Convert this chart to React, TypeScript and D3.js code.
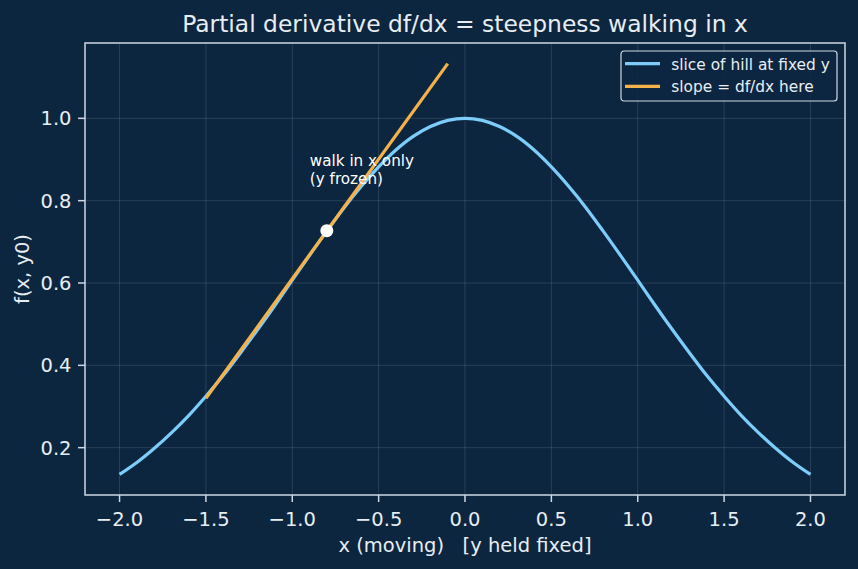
import React, { useEffect, useRef } from 'react';
import * as d3 from 'd3';

// slice of the hill f(x, y0), sampled every 0.1 in x
const sliceX = [
  -2.0, -1.9, -1.8, -1.7, -1.6, -1.5, -1.4, -1.3, -1.2, -1.1, -1.0,
  -0.9, -0.8, -0.7, -0.6, -0.5, -0.4, -0.3, -0.2, -0.1, 0.0,
  0.1, 0.2, 0.3, 0.4, 0.5, 0.6, 0.7, 0.8, 0.9, 1.0,
  1.1, 1.2, 1.3, 1.4, 1.5, 1.6, 1.7, 1.8, 1.9, 2.0
];
const sliceY = [
  0.135, 0.164, 0.198, 0.236, 0.278, 0.325, 0.375, 0.430, 0.487, 0.546, 0.607,
  0.667, 0.726, 0.783, 0.835, 0.882, 0.923, 0.956, 0.980, 0.995, 1.000,
  0.995, 0.980, 0.956, 0.923, 0.882, 0.835, 0.783, 0.726, 0.667, 0.607,
  0.546, 0.487, 0.430, 0.375, 0.325, 0.278, 0.236, 0.198, 0.164, 0.135
];

// tangent segment through the marked point
const slopeX = [-1.5, -0.1];
const slopeY = [0.320, 1.133];
const pointX = -0.8;
const pointY = 0.727;

const xTicks = [-2.0, -1.5, -1.0, -0.5, 0.0, 0.5, 1.0, 1.5, 2.0];
const yTicks = [0.2, 0.4, 0.6, 0.8, 1.0];

const legendLabels = ['slice of hill at fixed y', 'slope = df/dx here'];

const BG = '#0c2640';
const BLUE = '#7dcdfb';
const ORANGE = '#f5b24a';
const FG = '#e8edf2';
const SPINE = '#cfd8e2';

function App() {
  const ref = useRef<SVGSVGElement | null>(null);

  useEffect(() => {
    const svg = d3.select(ref.current);
    svg.selectAll('*').remove();

    const W = 858, H = 569;
    const margin = { top: 43, right: 13, bottom: 74, left: 85 };
    const width = W - margin.left - margin.right;
    const height = H - margin.top - margin.bottom;
    const font = 'DejaVu Sans, sans-serif';
    const tickSize = '19.5px';

    const x = d3.scaleLinear().domain([-2.2, 2.2]).range([0, width]);
    const y = d3.scaleLinear().domain([0.085, 1.183]).range([height, 0]);

    svg.append('rect').attr('width', W).attr('height', H).attr('fill', BG);

    const g = svg.append('g').attr('transform', `translate(${margin.left},${margin.top})`);

    // grid
    g.append('g').selectAll('line').data(xTicks).join('line')
      .attr('x1', d => x(d)).attr('x2', d => x(d))
      .attr('y1', 0).attr('y2', height)
      .attr('stroke', '#ffffff').attr('stroke-opacity', 0.15).attr('stroke-width', 0.8);
    g.append('g').selectAll('line').data(yTicks).join('line')
      .attr('y1', d => y(d)).attr('y2', d => y(d))
      .attr('x1', 0).attr('x2', width)
      .attr('stroke', '#ffffff').attr('stroke-opacity', 0.15).attr('stroke-width', 0.8);

    const fmt = (d: number) => d.toFixed(1).replace('-', '\u2212');

    // x axis
    const xa = g.append('g').attr('transform', `translate(0,${height})`);
    xa.selectAll('line').data(xTicks).join('line')
      .attr('x1', d => x(d)).attr('x2', d => x(d))
      .attr('y1', 0).attr('y2', 7)
      .attr('stroke', SPINE).attr('stroke-width', 1.5);
    xa.selectAll('text').data(xTicks).join('text')
      .attr('x', d => x(d)).attr('y', 31)
      .attr('text-anchor', 'middle')
      .attr('fill', FG).style('font-family', font).style('font-size', tickSize)
      .text(fmt);

    // y axis
    const ya = g.append('g');
    ya.selectAll('line').data(yTicks).join('line')
      .attr('y1', d => y(d)).attr('y2', d => y(d))
      .attr('x1', -7).attr('x2', 0)
      .attr('stroke', SPINE).attr('stroke-width', 1.5);
    ya.selectAll('text').data(yTicks).join('text')
      .attr('x', -13.5).attr('y', d => y(d) + 7)
      .attr('text-anchor', 'end')
      .attr('fill', FG).style('font-family', font).style('font-size', tickSize)
      .text(fmt);

    // hill slice
    const line = d3.line<number>()
      .x((d, i) => x(sliceX[i]))
      .y(d => y(d))
      .curve(d3.curveCatmullRom);
    g.append('path').datum(sliceY)
      .attr('d', line)
      .attr('fill', 'none').attr('stroke', BLUE).attr('stroke-width', 3.2);

    // tangent
    g.append('path').datum(slopeY)
      .attr('d', d3.line<number>().x((d, i) => x(slopeX[i])).y(d => y(d)))
      .attr('fill', 'none').attr('stroke', ORANGE).attr('stroke-width', 3.2);

    g.append('circle')
      .attr('cx', x(pointX)).attr('cy', y(pointY)).attr('r', 6.5)
      .attr('fill', '#ffffff');

    // annotation
    const note = g.append('text')
      .attr('fill', '#ffffff').style('font-family', font).style('font-size', '15.2px');
    note.append('tspan').attr('x', x(pointX) - 17).attr('y', y(pointY) - 65).text('walk in x only');
    note.append('tspan').attr('x', x(pointX) - 17).attr('y', y(pointY) - 47).text('(y frozen)');

    // spines
    g.append('rect')
      .attr('width', width).attr('height', height)
      .attr('fill', 'none').attr('stroke', SPINE).attr('stroke-width', 1.5);

    // legend
    const lg = g.append('g').attr('transform', `translate(${width - 224},8)`);
    lg.append('rect')
      .attr('width', 216).attr('height', 50).attr('rx', 3)
      .attr('fill', BG).attr('fill-opacity', 0.8)
      .attr('stroke', SPINE).attr('stroke-width', 1.2);
    const colors = [BLUE, ORANGE];
    legendLabels.forEach((label, i) => {
      lg.append('line')
        .attr('x1', 4).attr('x2', 39)
        .attr('y1', 12.6 + i * 22.7).attr('y2', 12.6 + i * 22.7)
        .attr('stroke', colors[i]).attr('stroke-width', 3.2);
      lg.append('text')
        .attr('x', 50.3).attr('y', 18.5 + i * 22.7)
        .attr('fill', FG).style('font-family', font).style('font-size', '15.4px')
        .text(label);
    });

    // titles
    svg.append('text')
      .attr('x', margin.left + width / 2).attr('y', 32)
      .attr('text-anchor', 'middle')
      .attr('fill', FG).style('font-family', font).style('font-size', '23.4px')
      .text('Partial derivative df/dx = steepness walking in x');

    svg.append('text')
      .attr('x', margin.left + width / 2).attr('y', 552)
      .attr('text-anchor', 'middle')
      .attr('fill', FG).style('font-family', font).style('font-size', tickSize)
      .style('white-space', 'pre')
      .text('x (moving)   [y held fixed]');

    svg.append('text')
      .attr('transform', `translate(29,${margin.top + height / 2}) rotate(-90)`)
      .attr('text-anchor', 'middle')
      .attr('fill', FG).style('font-family', font).style('font-size', tickSize)
      .text('f(x, y0)');
  }, []);

  return (
    <svg ref={ref} width={858} height={569} style={{ position: 'absolute', left: 0, top: 0, display: 'block' }} />
  );
}

export default App;
